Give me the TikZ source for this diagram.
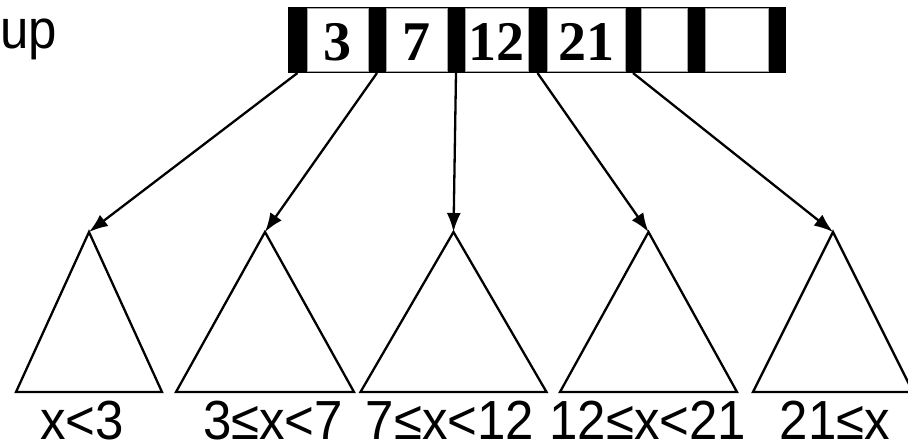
\documentclass[tikz,border=0pt]{standalone}
\usepackage{fontspec}
\usepackage{tikz}
\newfontfamily\labelfont{Liberation Sans}
\newfontfamily\cellfont{Liberation Serif}
\usetikzlibrary{arrows.meta}
\tikzset{>={Latex[length=19pt,width=14pt]}}
\newcommand{\tallText}[1]{\scalebox{1}[1.08]{#1}}

\begin{document}
\begin{tikzpicture}[x=1pt, y=-1pt, line width=2.3pt,
    cell/.style={fill=white, draw=gray!70, line width=1pt, inner sep=0pt,
      minimum height=63pt, text height=40pt, text depth=0pt,
      font=\cellfont\bfseries\fontsize{56}{64}\selectfont},
    rangelabel/.style={anchor=base, inner sep=0pt,
      font=\labelfont\fontsize{51}{60}\selectfont}]
        \useasboundingbox (0, 0) rectangle (908, 442);
        % the key array
        \fill (288, 7) rectangle (786, 73);
        \foreach \i/\l/\r/\t in {1/307/368/3, 2/386/447/7, 3/465/528/12,
                                 4/547/625/21, 5/641/687/{}, 6/705/768/{}} {
          \node[cell, minimum width={(\r-\l)*1pt}] (c\i) at ({(\l+\r)/2}, 40) {\t};
        }
        \node[rangelabel, anchor=base west] (up) at (-1, 48) {\tallText{up}};
        % pointers, subtrees and their ranges
        \foreach \i/\s/\a/\h/\x/\t in {1/297.5/89/73/82/{x<3},
                                       2/377/265/89/273/{3≤x<7},
                                       3/456/453.5/93/450/{7≤x<12},
                                       4/537.5/648.5/88.5/648/{12≤x<21},
                                       5/633/833/80/835/{21≤x}} {
          \coordinate (s\i) at (\s, 73);
          \coordinate (t\i) at (\a, 232);
          \draw (t\i) -- ++(-\h, 160) -- ++(2*\h, 0) -- cycle;
          \draw[->] (s\i) -- (t\i);
          \node[rangelabel] (r\i) at (\x, 439) {\tallText{\t}};
        }
      \end{tikzpicture}
\end{document}
